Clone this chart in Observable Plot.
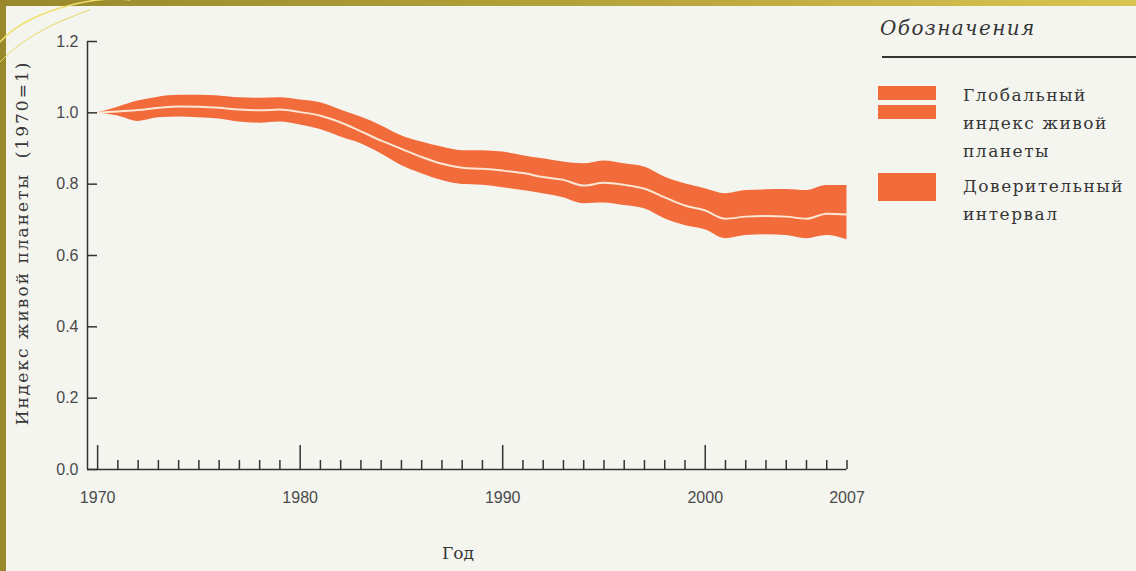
<!DOCTYPE html>
<html>
<head>
<meta charset="utf-8">
<script src="https://cdn.jsdelivr.net/npm/d3@7"></script>
<script src="https://cdn.jsdelivr.net/npm/@observablehq/plot@0.6"></script>
<style>
html, body { margin: 0; padding: 0; }
body { width: 1136px; height: 571px; position: relative; overflow: hidden;
  background: linear-gradient(90deg, #9a892c 0%, #b3a13a 50%, #d7c552 100%); }
#panel { position: absolute; left: 6px; top: 6px; right: 0; bottom: 0; background: #f5f5f0; }
#deco { position: absolute; left: 0; top: 0; }
#chart { position: absolute; left: 0; top: 0; }
.t { position: absolute; white-space: nowrap; font-family: "DejaVu Serif", "Liberation Serif", serif; color: #363636; }
.sw { position: absolute; background: #f26b3b; }
</style>
</head>
<body>
<div id="panel"></div>
<svg id="deco" width="1136" height="571">
  <path d="M0,42 Q20,20 60,8 T130,0" fill="none" stroke="#efe06a" stroke-width="1.5"/>
  <path d="M0,62 Q30,30 90,10" fill="none" stroke="#e8d860" stroke-width="1"/>
</svg>
<div id="chart"></div>

<div class="t" id="ylab" style="left:22px; top:243px; font-size:17px; letter-spacing:2px; transform: translate(-50%,-50%) rotate(-90deg);">Индекс живой планеты&nbsp;&nbsp;(1970=1)</div>
<div class="t" style="left:458px; top:553px; font-size:17px; transform: translate(-50%,-50%);">Год</div>

<div class="t" style="left:880px; top:16px; font-size:20px; font-style:italic; letter-spacing:1.4px;">Обозначения</div>
<div style="position:absolute; left:882px; top:56px; width:254px; height:1.5px; background:#333;"></div>
<div class="sw" style="left:878px; top:86px; width:58px; height:14px;"></div>
<div class="sw" style="left:878px; top:105px; width:58px; height:14px;"></div>
<div class="sw" style="left:878px; top:173px; width:58px; height:28px;"></div>
<div class="t" style="left:963px; top:81px; font-size:17px; line-height:28px; letter-spacing:1.5px;">Глобальный<br>индекс живой<br>планеты</div>
<div class="t" style="left:963px; top:172px; font-size:17px; line-height:28px; letter-spacing:1.5px;">Доверительный<br>интервал</div>

<script>
const years = [1970,1971,1972,1973,1974,1975,1976,1977,1978,1979,1980,1981,1982,1983,1984,1985,1986,1987,1988,1989,1990,1991,1992,1993,1994,1995,1996,1997,1998,1999,2000,2001,2002,2003,2004,2005,2006,2007];
const index = [1.000,1.004,1.008,1.014,1.018,1.017,1.014,1.009,1.007,1.009,1.002,0.992,0.973,0.948,0.922,0.899,0.876,0.857,0.846,0.843,0.838,0.831,0.820,0.812,0.796,0.804,0.798,0.787,0.763,0.740,0.726,0.703,0.709,0.711,0.709,0.703,0.717,0.715];
const upper = [1.000,1.016,1.033,1.044,1.049,1.049,1.047,1.042,1.041,1.042,1.036,1.028,1.008,0.988,0.964,0.936,0.918,0.904,0.894,0.894,0.890,0.880,0.871,0.862,0.857,0.865,0.857,0.848,0.820,0.801,0.787,0.773,0.782,0.784,0.785,0.782,0.796,0.796];
const lower = [1.000,0.991,0.976,0.986,0.988,0.986,0.983,0.974,0.971,0.974,0.966,0.953,0.932,0.913,0.885,0.852,0.829,0.810,0.799,0.797,0.790,0.782,0.773,0.762,0.745,0.747,0.740,0.731,0.703,0.684,0.672,0.647,0.656,0.658,0.656,0.647,0.656,0.644];

const xDomain = [1969.5, 2007];
const yDomain = [0, 1.2];
const yTicks = [0, 0.2, 0.4, 0.6, 0.8, 1.0, 1.2];
const majorYears = [1970, 1980, 1990, 2000];
const minorYears = years.filter(y => !majorYears.includes(y));
const labelYears = [1970, 1980, 1990, 2000, 2007];

const data = years.map((year, i) => ({year, index: index[i], upper: upper[i], lower: lower[i]}));

const orange = "#f26b3b";
const ink = "#333";

const chart = Plot.plot({
  width: 1136,
  height: 571,
  marginLeft: 87,
  marginRight: 289.5,
  marginTop: 41,
  marginBottom: 102,
  x: {domain: xDomain, label: null},
  y: {domain: yDomain, label: null},
  style: {background: "transparent", color: ink, fontFamily: "'Liberation Sans', Arial, sans-serif", fontSize: "16px", overflow: "visible"},
  marks: [
    Plot.areaY(data, {x: "year", y1: "lower", y2: "upper", fill: orange, curve: "monotone-x"}),
    Plot.line(data, {x: "year", y: "index", stroke: "#fbe7d4", strokeWidth: 2, curve: "monotone-x"}),
    Plot.ruleX(xDomain.slice(0, 1), {stroke: ink, strokeWidth: 1.5}),
    Plot.ruleY(yDomain.slice(0, 1), {stroke: ink, strokeWidth: 1.5}),
    Plot.axisY({ticks: yTicks, tickSize: 10, dx: 10, fill: "none", stroke: ink, strokeWidth: 1.5, label: null}),
    Plot.axisY({ticks: yTicks, tickSize: 0, tickPadding: 9, tickFormat: d => d.toFixed(1), fill: "#4a4a4a", fontSize: 16, label: null}),
    Plot.axisX({ticks: majorYears, tickSize: 24, dy: -24, fill: "none", stroke: ink, strokeWidth: 1.5, label: null}),
    Plot.axisX({ticks: minorYears, tickSize: 9, dy: -9, fill: "none", stroke: ink, strokeWidth: 1.5, label: null}),
    Plot.axisX({ticks: labelYears, tickSize: 0, tickPadding: 22, tickFormat: d => String(d), fill: "#4a4a4a", fontSize: 16, label: null})
  ]
});
document.getElementById("chart").appendChild(chart);
</script>
</body>
</html>
